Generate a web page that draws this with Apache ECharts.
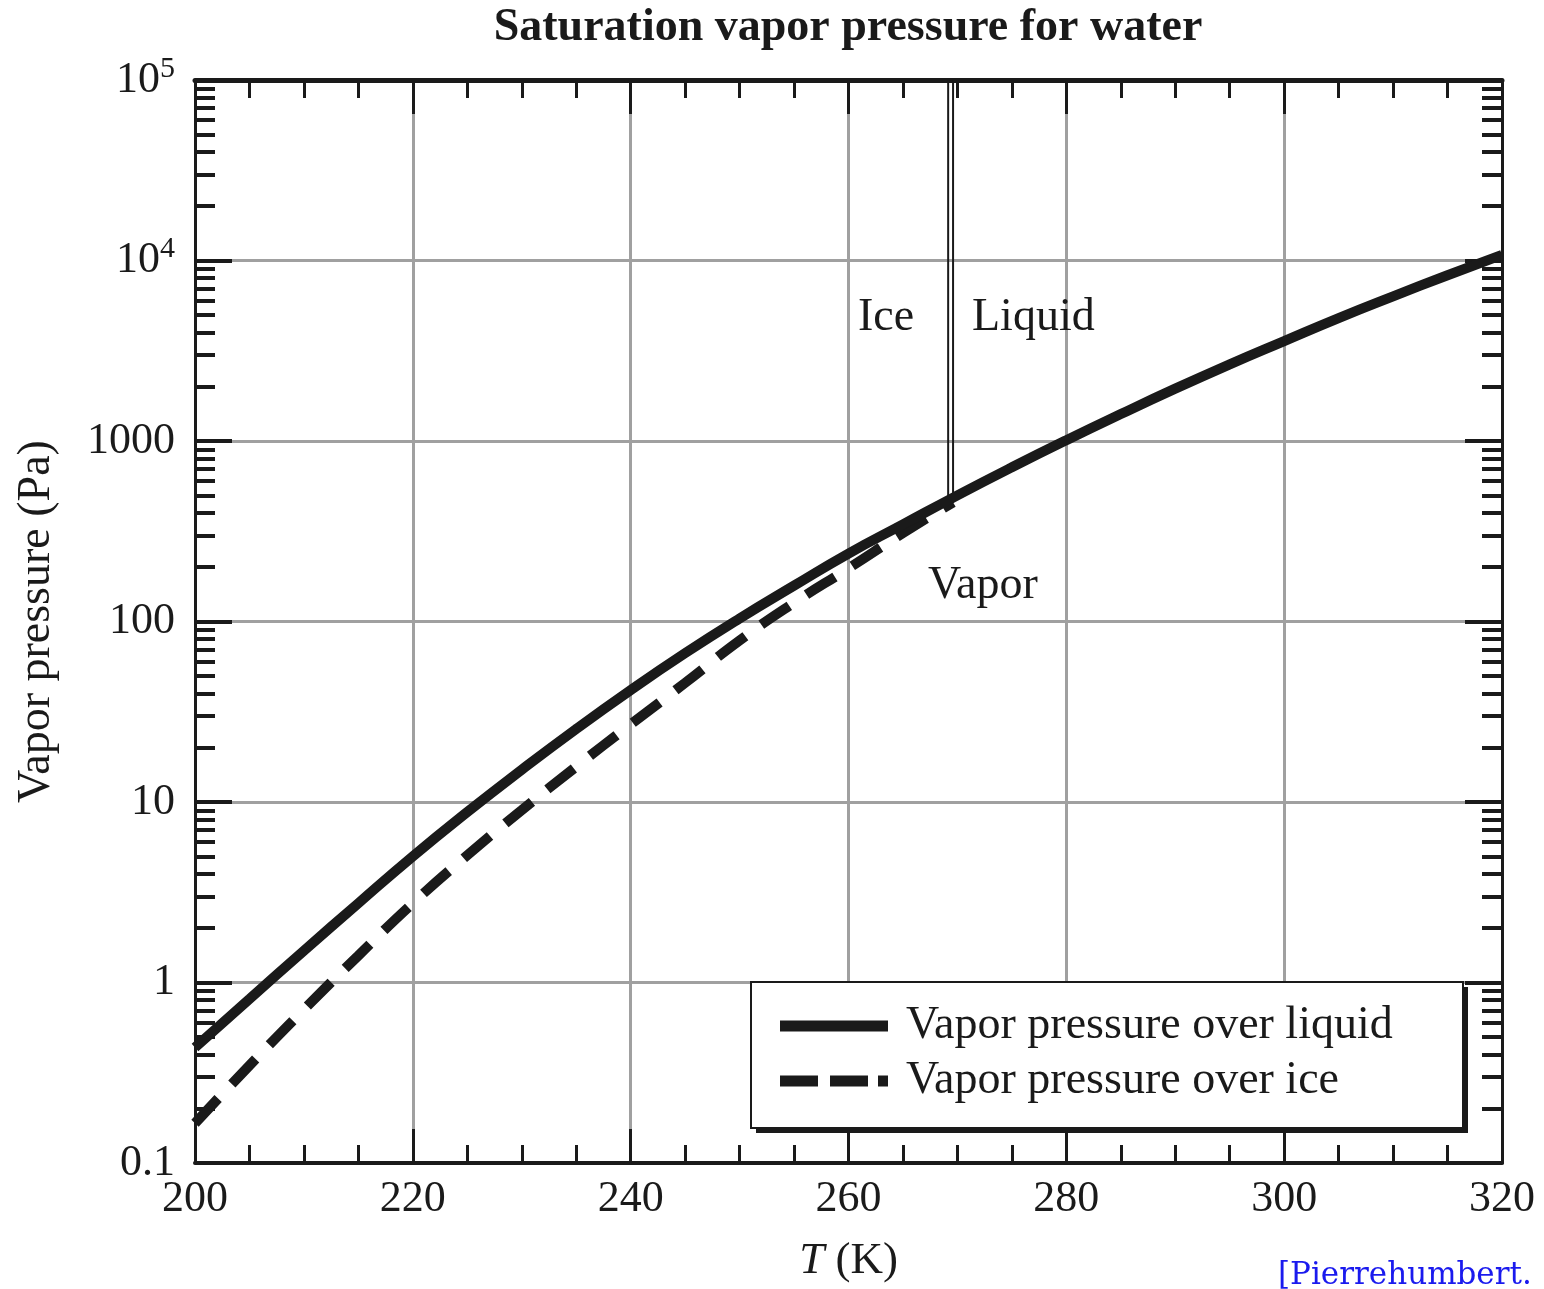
<!DOCTYPE html>
<html><head><meta charset="utf-8">
<script src="https://cdn.jsdelivr.net/npm/echarts@6/dist/echarts.min.js"></script>
<style>html,body{margin:0;padding:0;background:#fff}#c{width:1544px;height:1289px}</style>
</head><body><div id="c"></div>
<script>
const temperatureLiquid = [200,205,210,215,220,225,230,235,240,245,250,255,260,265,270,275,280,285,290,295,300,305,310,315,320];
const pressureLiquid = [0.437,0.81,1.5,2.75,5.0,8.8,15.1,25.4,41.7,66.8,104,158,238,345,500,715,1010,1410,1950,2660,3580,4800,6330,8280,10740];
const temperatureIce = [200,205,210,215,220,225,230,235,240,245,250,255,260,265,269.6];
const pressureIce = [0.166,0.347,0.708,1.41,2.75,5.07,9.02,15.7,26.9,45.7,78.5,127,197,309,457];
const phaseLineT = [269.15, 269.6];
const phaseLineP = [100000, 455];
const yMajorLabels = ['0.1','1','10','100','1000','10{s|4}','10{s|5}'];
const yMinorTicks = [0.2,0.3,0.4,0.5,0.6,0.7,0.8,0.9,2,3,4,5,6,7,8,9,20,30,40,50,60,70,80,90,200,300,400,500,600,700,800,900,2000,3000,4000,5000,6000,7000,8000,9000,20000,30000,40000,50000,60000,70000,80000,90000];
const seriesNames = ['Vapor pressure over liquid','Vapor pressure over ice'];

const FONT = '"Liberation Serif","Times New Roman",serif';
const INK = '#1a1a1a';
const chart = echarts.init(document.getElementById('c'));

function xAx(pos, labels) {
  return {
    type:'value', position:pos, min:200, max:320, interval:20,
    axisLine:{show:true, onZero:false, lineStyle:{color:INK, width:pos==='top'?5:4}},
    axisTick:{show:true, inside:true, length:34, lineStyle:{color:INK, width:3}},
    minorTick:{show:true, splitNumber:4, length:18, lineStyle:{color:INK, width:3}},
    splitLine:{show:labels, lineStyle:{color:'#a0a0a0', width:3}},
    axisLabel:{show:labels, fontFamily:FONT, fontSize:44, color:INK, margin:14},
    name: labels ? '{i|T} (K)' : '',
    nameLocation:'middle', nameGap:76,
    nameTextStyle:{fontFamily:FONT, fontSize:45, color:INK, rich:{i:{fontFamily:FONT, fontSize:45, fontStyle:'italic', color:INK}}}
  };
}
function yAx(pos, major, labels) {
  const a = {
    type:'log', logBase:10, position:pos, min:0.1, max:100000,
    axisLine:{show:major, lineStyle:{color:INK, width:3}},
    axisTick:{show:true, inside:true, length: major?37:20, lineStyle:{color:INK, width:4}},
    splitLine:{show:labels, lineStyle:{color:'#a0a0a0', width:3}},
    minorTick:{show:false},
    axisLabel:{show:labels, fontFamily:FONT, fontSize:44, color:INK, margin:20,
      formatter:(v)=> yMajorLabels[Math.round(Math.log10(v))+1],
      rich:{s:{fontFamily:FONT, fontSize:30, color:INK, padding:[0,0,22,0]}}},
    name: labels ? 'Vapor pressure (Pa)' : '',
    nameLocation:'middle', nameGap:135,
    nameTextStyle:{fontFamily:FONT, fontSize:46, color:INK}
  };
  if (!major) a.axisTick.customValues = yMinorTicks;
  return a;
}

const option = {
  animation:false,
  backgroundColor:'#fff',
  grid:{left:195, right:42, top:80, bottom:123, containLabel:false},
  xAxis:[xAx('bottom', true), xAx('top', false)],
  yAxis:[yAx('left', true, true), yAx('left', false, false), yAx('right', true, false), yAx('right', false, false)],
  legend:{
    data:[
      {name:seriesNames[0], icon:'path://M0,0H108V11H0Z'},
      {name:seriesNames[1], icon:'path://M0,0H38V11H0Z M50,0H88V11H50Z M98,0H108V11H98Z'}
    ],
    orient:'vertical', left:751, top:982, z:60,
    padding:[21,73,26,29], itemGap:9, itemWidth:108, itemHeight:11,
    itemStyle:{color:INK},
    textStyle:{fontFamily:FONT, fontSize:46, color:INK, lineHeight:46, padding:[0,0,0,13]}
  },
  graphic:[
    {type:'text', x:848, y:28, style:{text:'Saturation vapor pressure for water', font:'bold 46px "Liberation Serif"', fill:INK, align:'center', verticalAlign:'middle'}},
    {type:'text', x:858, y:318, z:10, style:{text:'Ice', font:'46px "Liberation Serif"', fill:INK, verticalAlign:'middle'}},
    {type:'text', x:972, y:318, z:10, style:{text:'Liquid', font:'46px "Liberation Serif"', fill:INK, verticalAlign:'middle'}},
    {type:'text', x:928, y:586, z:10, style:{text:'Vapor', font:'46px "Liberation Serif"', fill:INK, verticalAlign:'middle'}},
    {type:'text', x:1278, y:1276, style:{text:'[Pierrehumbert.', font:'31px "DejaVu Serif"', fill:'#1a1aee', verticalAlign:'middle'}},
    {type:'rect', z:50, shape:{x:756, y:987, width:712, height:146}, style:{fill:INK}},
    {type:'rect', z:51, shape:{x:751, y:982, width:712, height:146}, style:{fill:'#fff', stroke:INK, lineWidth:2}}
  ],
  series:[
    {name:seriesNames[0], type:'line', symbol:'none', smooth:true, z:5,
     data:temperatureLiquid.map((t,i)=>[t,pressureLiquid[i]]),
     lineStyle:{color:INK, width:10, type:'solid'}, itemStyle:{color:INK}},
    {name:seriesNames[1], type:'line', symbol:'none', smooth:true, z:4,
     data:temperatureIce.map((t,i)=>[t,pressureIce[i]]),
     lineStyle:{color:INK, width:10, type:[34,20]}, itemStyle:{color:INK}},
    {name:'phase1', type:'line', symbol:'none', silent:true, z:3,
     data:[[phaseLineT[0],phaseLineP[0]],[phaseLineT[0],phaseLineP[1]]],
     lineStyle:{color:INK, width:2}},
    {name:'phase2', type:'line', symbol:'none', silent:true, z:3,
     data:[[phaseLineT[1],phaseLineP[0]],[phaseLineT[1],phaseLineP[1]]],
     lineStyle:{color:INK, width:2}}
  ]
};
chart.setOption(option);
</script></body></html>
